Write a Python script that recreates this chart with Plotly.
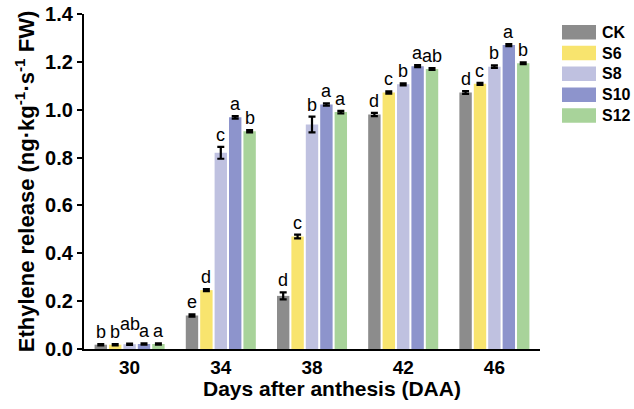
import plotly.graph_objects as go

days = ["30", "34", "38", "42", "46"]
groups = ["CK", "S6", "S8", "S10", "S12"]
colors = ["#8c8c8c", "#f8e46e", "#bfc1e0", "#8d94cc", "#a8d39a"]

ck = [0.018, 0.140, 0.222, 0.980, 1.072]
s6 = [0.018, 0.246, 0.470, 1.072, 1.108]
s8 = [0.020, 0.820, 0.938, 1.106, 1.180]
s10 = [0.021, 0.968, 1.022, 1.182, 1.270]
s12 = [0.021, 0.910, 0.990, 1.170, 1.194]

ck_err = [0.003, 0.005, 0.015, 0.007, 0.006]
s6_err = [0.003, 0.004, 0.008, 0.005, 0.004]
s8_err = [0.003, 0.025, 0.033, 0.004, 0.005]
s10_err = [0.003, 0.005, 0.005, 0.004, 0.004]
s12_err = [0.003, 0.005, 0.005, 0.004, 0.004]

ck_sig = ["b", "e", "d", "d", "d"]
s6_sig = ["b", "d", "c", "c", "c"]
s8_sig = ["ab", "c", "b", "b", "b"]
s10_sig = ["a", "a", "a", "a", "a"]
s12_sig = ["a", "b", "a", "ab", "b"]

x_title = "Days after anthesis (DAA)"
y_title = "Ethylene release (ng·kg<sup>-1</sup>·s<sup>-1</sup> FW)"

values = [ck, s6, s8, s10, s12]
errors = [ck_err, s6_err, s8_err, s10_err, s12_err]
sigs = [ck_sig, s6_sig, s8_sig, s10_sig, s12_sig]

FONT = "Liberation Sans, Arial, sans-serif"
BARGAP = 0.21
GROUPGAP = 0.14

fig = go.Figure()
for name, col, v, e in zip(groups, colors, values, errors):
    fig.add_trace(go.Bar(
        name=name, x=days, y=v, marker=dict(color=col, line=dict(width=0)),
        error_y=dict(type="data", array=e, visible=True, color="black",
                     thickness=2.2, width=3.5),
        showlegend=False,
    ))

n = len(groups)
slot = (1 - BARGAP) / n
annotations = []
for j, (v, e, s) in enumerate(zip(values, errors, sigs)):
    for i in range(len(days)):
        ys = 0
        if i == 0 and s[i] == "ab":
            ys = 8
        annotations.append(dict(
            x=i + (j - (n - 1) / 2) * slot, y=v[i] + e[i], xref="x", yref="y",
            text=s[i], showarrow=False, yanchor="bottom", yshift=ys,
            font=dict(family=FONT, size=18, color="black"),
        ))

# custom legend (pixel positions relative to the plot area)
shapes = []
leg_top = 25
leg_step = 20.8
plot_left, plot_w = 84, 456
plot_top, plot_bot = 14, 349
for k, (name, col) in enumerate(zip(groups, colors)):
    y0 = leg_top + k * leg_step
    y1 = y0 + 14.5
    py0 = (plot_bot - y1) / (plot_bot - plot_top)
    py1 = (plot_bot - y0) / (plot_bot - plot_top)
    shapes.append(dict(type="rect", xref="paper", yref="paper",
                       x0=(562 - plot_left) / plot_w, x1=(596 - plot_left) / plot_w,
                       y0=py0, y1=py1, fillcolor=col, line=dict(width=0)))
    annotations.append(dict(
        x=(600 - plot_left) / plot_w, y=(py0 + py1) / 2, xref="paper", yref="paper",
        text=name, showarrow=False, xanchor="left", yanchor="middle",
        font=dict(family=FONT, size=16, color="black", weight="bold"),
    ))

# x-axis title (offset to the right as in the reference)
annotations.append(dict(
    x=(332 - plot_left) / plot_w, y=(plot_bot - 389) / (plot_bot - plot_top),
    xref="paper", yref="paper", text=x_title, showarrow=False,
    xanchor="center", yanchor="middle",
    font=dict(family=FONT, size=21, color="black", weight="bold"),
))

fig.update_layout(
    width=634, height=409,
    margin=dict(l=84, r=94, t=14, b=60, autoexpand=False),
    paper_bgcolor="white", plot_bgcolor="white",
    barmode="group", bargap=BARGAP, bargroupgap=GROUPGAP,
    font=dict(family=FONT, color="black"),
    annotations=annotations, shapes=shapes,
    xaxis=dict(
        type="category", showline=True, linecolor="black", linewidth=2.2,
        ticks="", showgrid=False, zeroline=False, automargin=False,
        tickfont=dict(family=FONT, size=19, color="black", weight="bold"),
    ),
    yaxis=dict(
        range=[0, 1.4], dtick=0.2, tickformat=".1f",
        showline=True, linecolor="black", linewidth=2.2,
        ticks="outside", ticklen=5, tickwidth=2, tickcolor="black",
        showgrid=False, zeroline=False, automargin=False,
        ticklabeloverflow="allow",
        tickfont=dict(family=FONT, size=20, color="black", weight="bold"),
        title=dict(text=y_title, standoff=4,
                   font=dict(family=FONT, size=22, color="black", weight="bold")),
    ),
)

fig.write_html(
    "out.html",
    config={"displayModeBar": False},
    post_script="document.body.style.margin='0px';document.body.style.overflow='hidden';",
)
